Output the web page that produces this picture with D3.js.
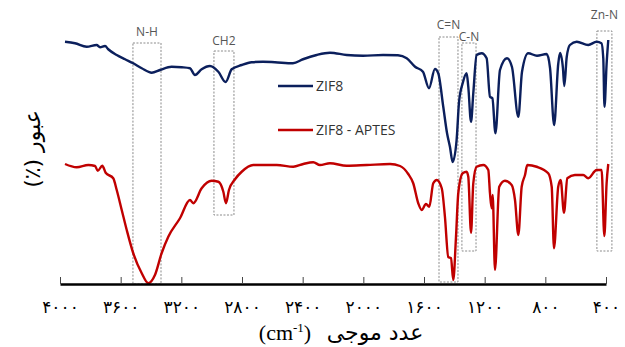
<!DOCTYPE html>
<html>
<head>
<meta charset="utf-8">
<script src="https://cdn.jsdelivr.net/npm/d3@7"></script>
<style>
  html, body { margin: 0; padding: 0; background: #fff; }
  svg { display: block; }
</style>
</head>
<body>
<div id="chart"></div>
<script>
// FTIR spectra, [wavenumber cm-1, transmittance (arb. %)]
const zif8 = [
  [3967, 96.9], [3901, 96.3], [3824, 94.9], [3758, 95.6], [3736, 94.7], [3703, 95.2],
  [3682, 93.9], [3626, 91.6], [3571, 89.9], [3517, 88.3], [3461, 86.3], [3395, 84.5],
  [3341, 85.6], [3264, 86.9], [3198, 86.7], [3143, 86.3], [3110, 83.6], [3066, 85.9],
  [3011, 87.2], [2956, 84.9], [2908, 80.8], [2868, 85.9], [2802, 87.6], [2736, 88.7],
  [2662, 88.9], [2583, 88.7], [2464, 88.3], [2398, 89.9], [2308, 91.6], [2220, 92.5],
  [2110, 91.6], [2002, 91.3], [1870, 91.6], [1772, 91.5], [1714, 90.3], [1659, 86.9],
  [1607, 84.9], [1567, 78.3], [1528, 86.0], [1506, 84.3], [1473, 70.9], [1448, 60.3],
  [1429, 54.9], [1411, 48.8], [1385, 57.6], [1369, 72.8], [1345, 80.3], [1319, 84.3],
  [1308, 78.9], [1290, 64.9], [1275, 76.3], [1253, 91.6], [1220, 92.3], [1187, 90.3],
  [1165, 74.9], [1149, 74.3], [1129, 60.3], [1099, 85.6], [1053, 90.3], [1020, 86.8],
  [978, 66.9], [954, 84.8], [913, 92.3], [855, 91.3], [791, 92.0], [769, 86.4],
  [742, 63.6], [715, 88.0], [703, 92.4], [684, 86.4], [675, 79.2], [659, 90.8],
  [638, 95.6], [593, 96.9], [517, 95.6], [462, 96.9], [430, 96.3], [418, 90.4],
  [410, 70.9], [396, 88.0], [385, 97.6]
];

const zif8Aptes = [
  [3967, 48.0], [3890, 46.7], [3813, 47.6], [3769, 47.2], [3751, 45.3], [3721, 47.3],
  [3699, 44.5], [3649, 42.3], [3626, 37.6], [3593, 29.6], [3560, 21.6], [3517, 12.3],
  [3461, 4.3], [3418, 0.3], [3374, 3.6], [3330, 12.3], [3286, 18.9], [3209, 26.3],
  [3143, 33.6], [3121, 32.3], [3066, 38.3], [3000, 41.3], [2956, 40.9], [2923, 36.9],
  [2906, 32.3], [2886, 37.6], [2846, 41.9], [2802, 44.9], [2726, 47.6], [2681, 47.6],
  [2571, 47.6], [2462, 46.9], [2396, 48.0], [2330, 48.7], [2286, 47.6], [2220, 48.3],
  [2110, 47.3], [1978, 47.6], [1824, 48.0], [1758, 47.2], [1704, 44.0], [1671, 40.3],
  [1638, 32.3], [1615, 29.6], [1587, 32.0], [1565, 30.9], [1539, 40.3], [1516, 41.6],
  [1483, 38.3], [1462, 26.9], [1440, 10.8], [1422, 10.3], [1407, 1.6], [1389, 18.9],
  [1374, 36.3], [1345, 44.3], [1319, 44.9], [1308, 42.9], [1290, 20.5], [1275, 40.3],
  [1253, 46.9], [1209, 47.6], [1176, 45.6], [1165, 36.3], [1154, 30.3], [1147, 35.6],
  [1132, 5.6], [1104, 38.9], [1066, 41.3], [1022, 39.6], [1000, 33.6], [978, 19.6],
  [956, 38.9], [934, 43.6], [919, 47.6], [857, 46.9], [781, 44.3], [758, 38.9],
  [743, 14.3], [715, 38.9], [699, 41.6], [677, 28.5], [655, 42.3], [605, 43.6],
  [550, 43.6], [517, 42.3], [462, 45.6], [429, 45.6], [411, 19.2], [396, 40.3],
  [385, 48.0]
];

// band boxes: label, wavenumber from, to, transmittance top, bottom
const bands = [
  ["N-H", 3519, 3334, 96.4, 0],
  ["CH2", 2985, 2853, 93.2, 27.6],
  ["C=N", 1501, 1376, 98.8, 0.8],
  ["C-N", 1350, 1257, 96.4, 13.2],
  ["Zn-N", 460, 361, 101.2, 13.2]
];
const bandLabelDy = [7, 6, 8, 2, 12];

const xTicks = [4000, 3600, 3200, 2800, 2400, 2000, 1600, 1200, 800, 400];
const seriesNames = ["ZIF8", "ZIF8 - APTES"];
const seriesColors = ["#0b1f5c", "#c00000"];

const W = 625, H = 347;
const svg = d3.select("#chart").append("svg").attr("width", W).attr("height", H);

const x = d3.scaleLinear().domain([4000, 400]).range([60, 606]);
const y = d3.scaleLinear().domain([0, 100]).range([284, 34]);

const fa = (n) => String(n).replace(/\d/g, (c) => "۰۱۲۳۴۵۶۷۸۹"[+c]);

// dotted band boxes
const bandG = svg.append("g");
bands.forEach((b, i) => {
  const x0 = x(b[1]), x1 = x(b[2]), y0 = y(b[3]), y1 = y(b[4]);
  bandG.append("rect")
    .attr("x", x0).attr("y", y0)
    .attr("width", x1 - x0).attr("height", y1 - y0)
    .attr("fill", "none")
    .attr("stroke", "#8a8a8a")
    .attr("stroke-width", 1)
    .attr("stroke-dasharray", "2,1.5");
  bandG.append("text")
    .attr("x", (x0 + x1) / 2)
    .attr("y", y0 - bandLabelDy[i])
    .attr("text-anchor", "middle")
    .attr("font-family", "Open Sans, sans-serif")
    .attr("font-size", "12px")
    .attr("fill", "#555")
    .text(b[0]);
});

// spectra
const line = d3.line().x((d) => x(d[0])).y((d) => y(d[1])).curve(d3.curveMonotoneX);
[zif8, zif8Aptes].forEach((s, i) => {
  svg.append("path")
    .datum(s)
    .attr("d", line)
    .attr("fill", "none")
    .attr("stroke", seriesColors[i])
    .attr("stroke-width", 2.4)
    .attr("stroke-linejoin", "round");
});

// x axis
const axis = svg.append("g")
  .attr("transform", `translate(0,${y(0)})`)
  .call(d3.axisBottom(x).tickValues(xTicks).tickSizeInner(-7).tickSizeOuter(0).tickPadding(17).tickFormat(fa));
axis.select(".domain").attr("stroke", "#000").attr("stroke-width", 2.5);
axis.selectAll(".tick line").attr("stroke", "#444").attr("stroke-width", 1);
axis.selectAll("text")
  .attr("font-family", "DejaVu Sans, sans-serif")
  .attr("font-size", "17px")
  .attr("fill", "#000");

// axis titles
const xt = svg.append("text")
  .attr("x", 285).attr("y", 340)
  .attr("text-anchor", "middle")
  .attr("font-family", "Liberation Serif, serif")
  .attr("font-size", "22px")
  .attr("fill", "#000");
xt.append("tspan").text("(cm");
xt.append("tspan").attr("font-size", "13px").attr("dy", -8).text("-1");
xt.append("tspan").attr("dy", 8).text(")");

svg.append("text")
  .attr("x", 375).attr("y", 340)
  .attr("text-anchor", "middle")
  .attr("font-family", "DejaVu Sans, sans-serif")
  .attr("font-size", "22px")
  .attr("fill", "#000")
  .text("عدد موجی");

svg.append("text")
  .attr("transform", "translate(40,149) rotate(-90)")
  .attr("text-anchor", "middle")
  .attr("direction", "rtl")
  .attr("font-family", "DejaVu Sans, sans-serif")
  .attr("font-size", "22px")
  .attr("fill", "#000")
  .text("عبور (٪)");

// legend
const legY = [86, 130];
seriesNames.forEach((name, i) => {
  svg.append("line")
    .attr("x1", 278).attr("x2", 313)
    .attr("y1", legY[i]).attr("y2", legY[i])
    .attr("stroke", seriesColors[i])
    .attr("stroke-width", 2.5);
  svg.append("text")
    .attr("x", 316).attr("y", legY[i] + 5)
    .attr("font-family", "Open Sans, sans-serif")
    .attr("font-size", "14px")
    .attr("fill", "#333")
    .text(name);
});
</script>
</body>
</html>
